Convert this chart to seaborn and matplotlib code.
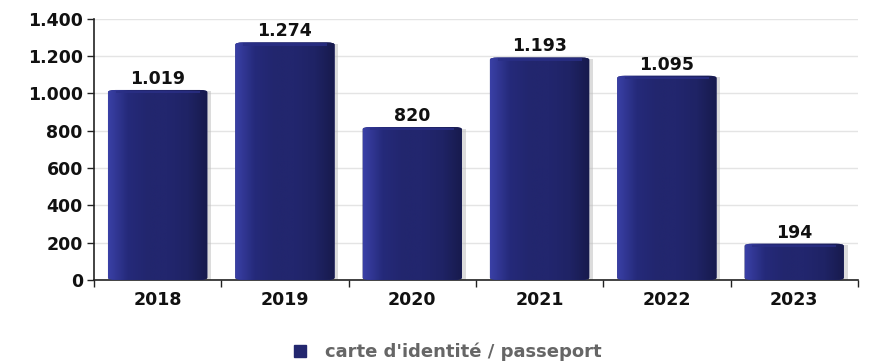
import numpy as np
import pandas as pd
import matplotlib
matplotlib.use("Agg")
import matplotlib.pyplot as plt
import matplotlib.ticker as mtick
from matplotlib.colors import LinearSegmentedColormap
from matplotlib.lines import Line2D
from matplotlib.patches import FancyBboxPatch
import seaborn as sns

# ── Data ──────────────────────────────────────────────────────────────────────
years = ["2018", "2019", "2020", "2021", "2022", "2023"]
counts = [1019, 1274, 820, 1193, 1095, 194]
series_name = "carte d'identité / passeport"

df = pd.DataFrame({"year": years, "count": counts})

sns.set_theme(style="white")
plt.rcParams["font.family"] = ["DejaVu Sans"]

FS = 12.5


def dotted(x, _=None):
    return f"{x:,.0f}".replace(",", ".")


fig = plt.figure(figsize=(8.7, 3.64), dpi=100)
ax = fig.add_axes([0.108, 0.231, 0.878, 0.717])

sns.barplot(data=df, x="year", y="count", color="#23276f", width=0.78,
            saturation=1, ax=ax, zorder=3)

# horizontal gradient + shadow on each bar
grad = LinearSegmentedColormap.from_list(
    "bar", ["#3a40a6", "#252a7a", "#22266e", "#22266e", "#1f2365", "#171a4c"])
gimg = np.linspace(0, 1, 256).reshape(1, -1)
for p in ax.patches[:len(years)]:
    x0, w, h = p.get_x(), p.get_width(), p.get_height()
    p.set_visible(False)
    body = FancyBboxPatch((x0, 0), w, h, boxstyle="round,pad=0,rounding_size=0.06",
                          mutation_aspect=200, lw=0, fc="#23276f", zorder=3)
    ax.add_patch(body)
    ax.add_patch(plt.Rectangle((x0 + 0.03, 0), w, h - 8, color="#bbbbbb",
                               alpha=0.5, lw=0, zorder=2))
    im = ax.imshow(gimg, cmap=grad, aspect="auto", extent=(x0, x0 + w, 0, h),
                   zorder=4)
    im.set_clip_path(body)
    # bevelled top
    ax.add_patch(plt.Rectangle((x0 + 0.06, h - 17), w - 0.12, 12,
                               color="#2a2f86", lw=0, zorder=5, alpha=0.8))
    ax.text(x0 + w / 2, h + 12, dotted(h), ha="center", va="bottom",
            fontsize=FS, fontweight="bold", color="#111111", zorder=6)

ax.set_xlim(-0.5, len(years) - 0.5)
ax.set_ylim(0, 1400)
ax.yaxis.set_major_locator(mtick.MultipleLocator(200))
ax.yaxis.set_major_formatter(mtick.FuncFormatter(dotted))
ax.set_xticks(np.arange(-0.5, len(years)), minor=False)
ax.set_xticklabels([])
ax.set_xticks(np.arange(len(years)), minor=True)
ax.set_xticklabels(years, minor=True)
ax.tick_params(axis="x", which="minor", length=0, pad=8, labelsize=FS)
ax.tick_params(axis="x", which="major", length=5, width=1, color="#222222",
               direction="out", bottom=True)
ax.tick_params(axis="y", length=5, width=1, color="#222222", direction="out",
               left=True, labelsize=FS, pad=3)
for lab in ax.get_xticklabels(minor=True) + ax.get_yticklabels():
    lab.set_fontweight("bold")
    lab.set_color("#111111")

ax.grid(axis="y", color="#e4e4e4", lw=1, zorder=0)
ax.set_axisbelow(True)
sns.despine(ax=ax)
for s in ("left", "bottom"):
    ax.spines[s].set_color("#222222")
    ax.spines[s].set_linewidth(1.2)
ax.set_xlabel("")
ax.set_ylabel("")

handle = Line2D([], [], marker="s", ls="", markersize=9, color="#23276f")
leg = fig.legend([handle], [series_name], loc="center", ncol=1,
                 bbox_to_anchor=(0.508, 0.033), frameon=False,
                 handletextpad=0.4, fontsize=13)
for t in leg.get_texts():
    t.set_color("#666666")
    t.set_fontweight("bold")

fig.savefig("out.png", dpi=100)
